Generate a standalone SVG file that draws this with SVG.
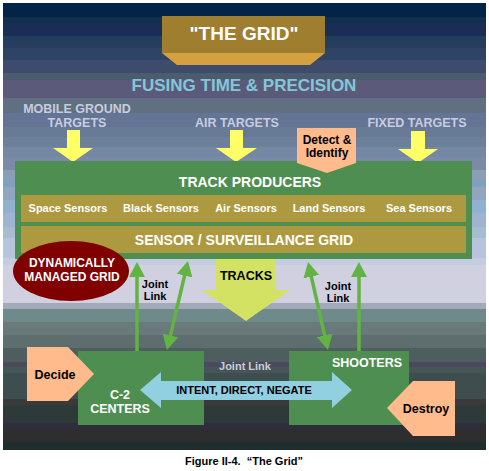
<svg xmlns="http://www.w3.org/2000/svg" width="489" height="471" viewBox="0 0 489 471">
<style>
text{font-family:"Liberation Sans",Arial,Helvetica,sans-serif;font-weight:bold;text-anchor:middle}
.w{fill:#ffffff}
.k{fill:#000000}
.lav{fill:#c8cce0}
.green{fill:#4e8e50}
.olive{fill:#ad9a40}
.salmon{fill:#ffbb8c}
.yellow{fill:#ffff66}
.link{stroke:#62b342;stroke-width:3.5;fill:none}
</style>
<defs>
<marker id="ah" viewBox="0 0 15 16" refX="7" refY="8" markerWidth="15" markerHeight="16" markerUnits="userSpaceOnUse" orient="auto-start-reverse">
<path d="M0,0 L15,8 L0,16 z" fill="#62b342"/>
</marker>
</defs>
<rect width="489" height="471" fill="#ffffff"/>
<g id="background">
<rect x="3" y="3" width="483" height="14" fill="#022448"/>
<rect x="3" y="17" width="483" height="6" fill="#10304e"/>
<rect x="3" y="23" width="483" height="13" fill="#1a2d55"/>
<rect x="3" y="36" width="483" height="6" fill="#213e5a"/>
<rect x="3" y="42" width="483" height="6" fill="#283c5e"/>
<rect x="3" y="48" width="483" height="12" fill="#2e4466"/>
<rect x="3" y="60" width="483" height="13" fill="#3d4b6c"/>
<rect x="3" y="73" width="483" height="7" fill="#4c5c6e"/>
<rect x="3" y="80" width="483" height="18" fill="#5c5a7a"/>
<rect x="3" y="98" width="483" height="15" fill="#607080"/>
<rect x="3" y="113" width="483" height="14" fill="#647494"/>
<rect x="3" y="127" width="483" height="10" fill="#687a96"/>
<rect x="3" y="137" width="483" height="10" fill="#6c809a"/>
<rect x="3" y="147" width="483" height="10" fill="#7488a4"/>
<rect x="3" y="157" width="483" height="13" fill="#7a8aa8"/>
<rect x="3" y="170" width="483" height="10" fill="#8a9eb4"/>
<rect x="3" y="180" width="483" height="7" fill="#80a0c0"/>
<rect x="3" y="187" width="483" height="13" fill="#90a6c0"/>
<rect x="3" y="200" width="483" height="13" fill="#90b2d0"/>
<rect x="3" y="213" width="483" height="14" fill="#9eb4d0"/>
<rect x="3" y="227" width="483" height="11" fill="#a8bcd0"/>
<rect x="3" y="238" width="483" height="20" fill="#b8c4dc"/>
<rect x="3" y="258" width="483" height="7" fill="#c4cce0"/>
<rect x="3" y="265" width="483" height="38" fill="#d0d0e0"/>
<rect x="3" y="303" width="483" height="6" fill="#a0aab8"/>
<rect x="3" y="309" width="483" height="13" fill="#6e8a8a"/>
<rect x="3" y="322" width="483" height="13" fill="#6a7a7a"/>
<rect x="3" y="335" width="483" height="13" fill="#5e6e6e"/>
<rect x="3" y="348" width="483" height="14" fill="#4e5e5e"/>
<rect x="3" y="362" width="483" height="5" fill="#4a4a5c"/>
<rect x="3" y="367" width="483" height="6" fill="#465656"/>
<rect x="3" y="373" width="483" height="26" fill="#3e4e4e"/>
<rect x="3" y="399" width="483" height="6" fill="#3a3a3a"/>
<rect x="3" y="405" width="483" height="18" fill="#2e3a3a"/>
<rect x="3" y="423" width="483" height="7" fill="#2e2e3a"/>
<rect x="3" y="430" width="483" height="12" fill="#2e2e2e"/>
<rect x="3" y="442" width="483" height="8" fill="#1e2e2e"/>
</g>
<g id="title">
<rect x="162" y="16" width="163" height="37" fill="#a07e30"/>
<polygon points="162,53 325,53 310,65 177,65" fill="#d4a040"/>
<text class="w" x="244" y="40" font-size="19">"THE GRID"</text>
</g>
<g id="subtitle">
<text x="244" y="91" font-size="17" fill="#80c8d8">FUSING TIME &amp; PRECISION</text>
</g>
<g id="mobile-ground-targets">
<text class="lav" x="77" y="113" font-size="12.5">MOBILE GROUND</text>
<text class="lav" x="77" y="127" font-size="12.5">TARGETS</text>
<polygon class="yellow" points="67,130 80,130 80,148 93,148 73,162 53,148 67,148"/>
</g>
<g id="air-targets">
<text class="lav" x="237" y="127" font-size="12.5">AIR TARGETS</text>
<polygon class="yellow" points="230,130 243,130 243,148 257,148 236,162 216,148 230,148"/>
</g>
<g id="fixed-targets">
<text class="lav" x="417" y="127" font-size="12.5">FIXED TARGETS</text>
<polygon class="yellow" points="411,131 425,131 425,149 438,149 418,163 398,149 411,149"/>
</g>
<g id="track-producers">
<rect class="green" x="15" y="161" width="457" height="98"/>
<text class="w" x="250" y="187" font-size="14">TRACK PRODUCERS</text>
</g>
<g id="detect-identify">
<polygon class="salmon" points="297,128 356,128 356,163 327,173 297,163"/>
<text class="k" x="327" y="144" font-size="12">Detect &amp;</text>
<text class="k" x="327" y="157" font-size="12">Identify</text>
</g>
<g id="sensors">
<rect class="olive" x="21" y="195" width="445" height="27"/>
<text class="w" x="68" y="212" font-size="11">Space Sensors</text>
<text class="w" x="161" y="212" font-size="11">Black Sensors</text>
<text class="w" x="246" y="212" font-size="11">Air Sensors</text>
<text class="w" x="329" y="212" font-size="11">Land Sensors</text>
<text class="w" x="419" y="212" font-size="11">Sea Sensors</text>
</g>
<g id="sensor-grid">
<rect class="olive" x="21" y="226" width="445" height="27"/>
<text class="w" x="244" y="245" font-size="14">SENSOR / SURVEILLANCE GRID</text>
</g>
<g id="dynamic-grid">
<ellipse cx="71" cy="271" rx="58" ry="30" fill="#800000"/>
<text class="w" x="72" y="267" font-size="12">DYNAMICALLY</text>
<text class="w" x="72" y="281" font-size="12">MANAGED GRID</text>
</g>
<g id="tracks">
<polygon points="216,259 275,259 275,290 290,290 246,321 202,290 216,290" fill="#d4e264"/>
<text class="k" x="246" y="280" font-size="12.5">TRACKS</text>
</g>
<g id="c2-centers">
<rect class="green" x="78" y="351" width="126" height="74"/>
<text class="w" x="120" y="399" font-size="12.5">C-2</text>
<text class="w" x="120" y="413" font-size="12.5">CENTERS</text>
</g>
<g id="shooters">
<rect class="green" x="289" y="351" width="120" height="74"/>
<text class="w" x="367" y="367" font-size="12.5">SHOOTERS</text>
</g>
<g id="decide">
<polygon class="salmon" points="27,347 68,347 94,374 68,401 27,401"/>
<text class="k" x="55" y="379" font-size="12.5">Decide</text>
</g>
<g id="destroy">
<polygon class="salmon" points="455,381 413,381 387,408 413,436 455,436"/>
<text class="k" x="426" y="413" font-size="12.5">Destroy</text>
</g>
<g id="connectors">
<line class="link" x1="137" y1="351" x2="137" y2="270" marker-end="url(#ah)"/>
<line class="link" x1="168.8" y1="342.2" x2="186.2" y2="268.8" marker-start="url(#ah)" marker-end="url(#ah)"/>
<line class="link" x1="326.2" y1="342.2" x2="309.8" y2="269.8" marker-start="url(#ah)" marker-end="url(#ah)"/>
<line class="link" x1="359" y1="351" x2="359" y2="270" marker-end="url(#ah)"/>
<text class="k" x="155" y="288" font-size="11">Joint</text>
<text class="k" x="155" y="300" font-size="11">Link</text>
<text class="k" x="338" y="290" font-size="11">Joint</text>
<text class="k" x="338" y="302" font-size="11">Link</text>
<text x="245" y="370" font-size="11" fill="#c8ccd8">Joint Link</text>
<polygon points="140,390 161,372 161,381 332,381 332,372 352,390 332,408 332,400 161,400 161,408" fill="#90d0e0"/>
<text class="k" x="244" y="394" font-size="11">INTENT, DIRECT, NEGATE</text>
</g>
<g id="caption">
<text class="k" x="244" y="465" font-size="11" xml:space="preserve">Figure II-4.  “The Grid”</text>
</g>
</svg>
